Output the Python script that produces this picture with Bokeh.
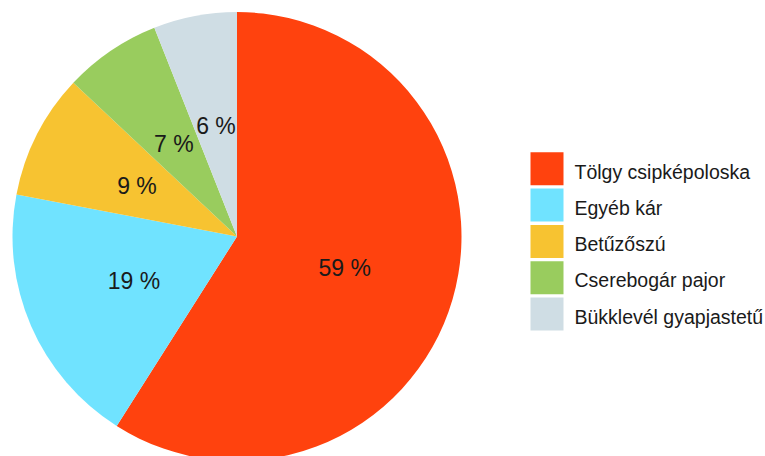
import numpy as np
from bokeh.plotting import figure
from bokeh.models import Range1d, ColumnDataSource
from bokeh.core.properties import value
from bokeh.embed import file_html
from bokeh.resources import INLINE

categories = ["Tölgy csipképoloska", "Egyéb kár", "Betűzőszú", "Cserebogár pajor", "Bükklevél gyapjastetű"]
shares = [59, 19, 9, 7, 6]
colors = ["#FF420E", "#70E3FF", "#F7C331", "#99CC5E", "#CFDDE4"]
labels = [f"{v} %" for v in shares]

W, H = 765, 456
p = figure(width=W, height=H, output_backend="svg", toolbar_location=None,
           x_range=Range1d(0, W), y_range=Range1d(0, H), min_border=0)
p.axis.visible = False
p.grid.visible = False
p.outline_line_color = None
p.background_fill_color = "white"

cx, cy, R = 236.5, 220.0, 224.5
vals = np.array(shares, dtype=float)
frac = vals / vals.sum()
cum_end = np.cumsum(frac)
cum_start = cum_end - frac
start = np.pi / 2 - 2 * np.pi * cum_start
end = np.pi / 2 - 2 * np.pi * cum_end
mid = (start + end) / 2

src = ColumnDataSource(dict(start=start, end=end, color=colors,
                            lx=cx + 0.5 * R * np.cos(mid), ly=cy + 0.5 * R * np.sin(mid),
                            label=labels))
p.wedge(x=cx, y=cy, radius=R, start_angle="start", end_angle="end", direction="clock",
        fill_color="color", line_color=None, source=src)
p.text(x="lx", y="ly", text="label", source=src, text_align="center", text_baseline="middle",
       text_font=value("Liberation Sans"), text_font_size="23px", text_color="#1a1a1a")

idx = np.arange(len(categories))
leg = ColumnDataSource(dict(x=np.full(len(idx), 546.5), y=287.7 - 36.3 * idx,
                            tx=np.full(len(idx), 574.0), ty=285.0 - 36.3 * idx,
                            color=colors, name=categories))
p.rect(x="x", y="y", width=33, height=33, fill_color="color", line_color=None, source=leg)
p.text(x="tx", y="ty", text="name", source=leg, text_align="left", text_baseline="middle",
       text_font=value("Liberation Sans"), text_font_size="19.5px", text_color="#1a1a1a")

open("out.html", "w").write(file_html(p, INLINE))
